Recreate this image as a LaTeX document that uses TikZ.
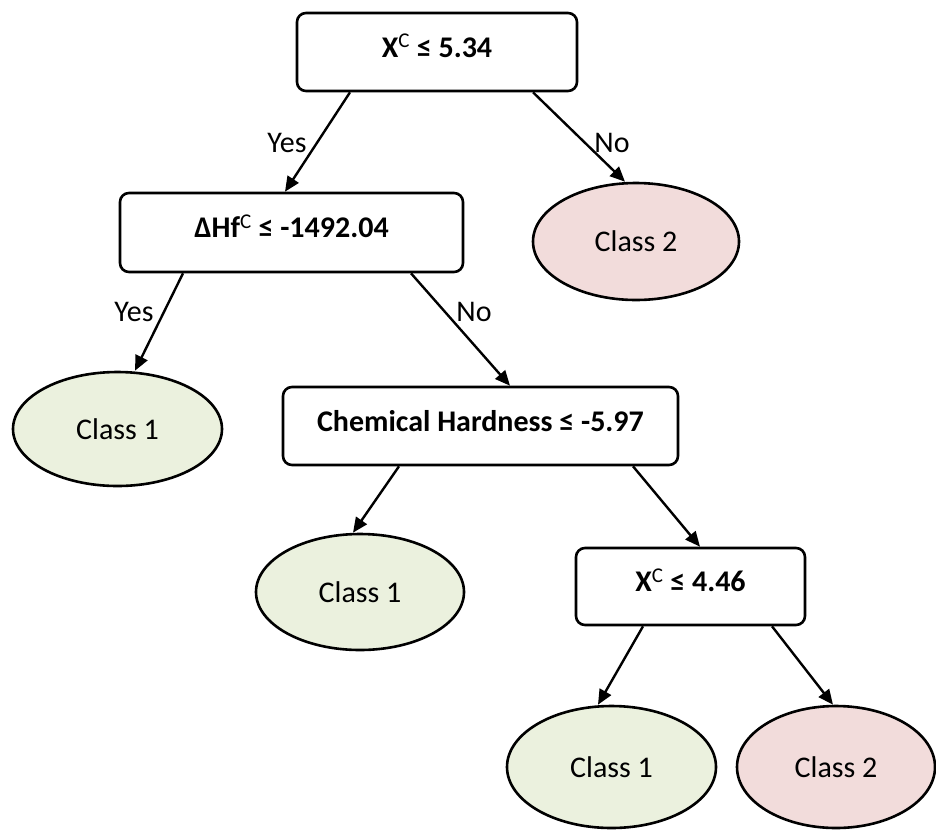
\documentclass[tikz,border=0pt]{standalone}
\usepackage{fontspec}
\setmainfont{Carlito}
\usetikzlibrary{arrows.meta,shapes.geometric}
\definecolor{leafgreen}{HTML}{EBF1DE}
\definecolor{leafpink}{HTML}{F2DCDB}
\begin{document}
\begin{tikzpicture}[x=1pt,y=-1pt,
  every node/.style={font=\fontsize{30}{33}\selectfont},
  test/.style={draw=black, line width=2.6pt, rounded corners=9pt, fill=white,
    text height=20pt, text depth=10pt, inner sep=0pt, font=\fontsize{30}{33}\selectfont\bfseries},
  leaf/.style={ellipse, draw=black, line width=2.6pt, inner sep=0pt},
  c1/.style={leaf, fill=leafgreen},
  c2/.style={leaf, fill=leafpink},
  lbl/.style={inner sep=0pt},
  arr/.style={line width=2.4pt, -{Triangle[length=15pt,width=13pt]}}
]
\useasboundingbox (0,0) rectangle (936,830);

% decision nodes
\node[test, minimum width=280pt, minimum height=78pt] (root) at (437,52) {X\textsuperscript{\mdseries C} ≤ 5.34};
\node[test, minimum width=343pt, minimum height=79pt] (hf) at (291.5,232.5) {ΔHf\textsuperscript{\mdseries C} ≤ -1492.04};
\node[test, minimum width=395pt, minimum height=78pt] (hard) at (480.5,426) {Chemical Hardness ≤ -5.97};
\node[test, minimum width=229pt, minimum height=77pt] (xc) at (690.5,586.5) {X\textsuperscript{\mdseries C} ≤ 4.46};

% leaves
\node[c2, minimum width=206pt, minimum height=117pt] (leafA) at (636,241.5) {Class 2};
\node[c1, minimum width=209pt, minimum height=114pt] (leafB) at (117.5,429) {Class 1};
\node[c1, minimum width=208pt, minimum height=116pt] (leafC) at (360,592) {Class 1};
\node[c1, minimum width=209pt, minimum height=122pt] (leafD) at (611.5,767) {Class 1};
\node[c2, minimum width=198pt, minimum height=122pt] (leafE) at (836,767) {Class 2};

% branches
\draw[arr] ([xshift=-87pt]root.south) -- ([xshift=-6.5pt]hf.north);
\draw[arr] ([xshift=96pt]root.south) -- ([xshift=-11pt]leafA.north);
\draw[arr] ([xshift=-108.5pt]hf.south) -- ([xshift=17.5pt]leafB.north);
\draw[arr] ([xshift=119.5pt]hf.south) -- ([xshift=29.5pt]hard.north);
\draw[arr] ([xshift=-81.5pt]hard.south) -- ([xshift=-7pt]leafC.north);
\draw[arr] ([xshift=152.5pt]hard.south) -- ([xshift=9.5pt]xc.north);
\draw[arr] ([xshift=-47.5pt]xc.south) -- ([xshift=-13.5pt]leafD.north);
\draw[arr] ([xshift=81.5pt]xc.south) -- ([xshift=-3pt]leafE.north);

% branch labels
\node[lbl] (yes1) at (287,143) {Yes};
\node[lbl] (no1) at (612,143) {No};
\node[lbl] (yes2) at (134,312) {Yes};
\node[lbl] (no2) at (474,312) {No};
\end{tikzpicture}
\end{document}
